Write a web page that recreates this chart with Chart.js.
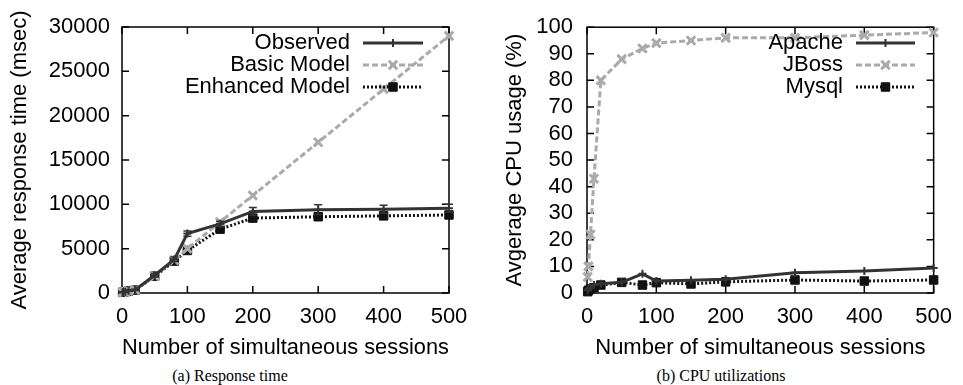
<!DOCTYPE html>
<html>
<head>
<meta charset="utf-8">
<script src="https://cdn.jsdelivr.net/npm/chart.js@4.4.1/dist/chart.umd.min.js"></script>
<style>
  body { margin: 0; background: #fff; width: 963px; height: 385px; position: relative; overflow: hidden; }
  canvas { position: absolute; top: 0; }
  .cap { position: absolute; top: 367px; font: 16px "Liberation Serif", "Times New Roman", serif; color: #000; transform: translateX(-50%); white-space: nowrap; }
</style>
</head>
<body>
<canvas id="resp" width="480" height="365" style="left:0"></canvas>
<canvas id="cpu" width="483" height="365" style="left:480px"></canvas>
<div class="cap" style="left:230px">(a) Response time</div>
<div class="cap" style="left:721px">(b) CPU utilizations</div>
<script>
// sessions (x)
var sessions = [1, 2, 5, 10, 20, 50, 80, 100, 150, 200, 300, 400, 500];

// response time (msec)
var observed = [80, 100, 150, 250, 350, 2000, 3800, 6700, 7800, 9200, 9400, 9450, 9550];
var observedErr = [20, 20, 30, 50, 80, 200, 250, 300, 300, 450, 550, 450, 450];
var basicModel = [80, 100, 150, 250, 350, 1900, 3700, 5000, 8000, 11000, 17000, 23000, 29000];
var enhancedModel = [80, 100, 150, 230, 330, 1900, 3600, 4800, 7200, 8450, 8600, 8700, 8800];

// cpu usage (%)
var apache = [1, 1.5, 2, 3, 3.5, 4, 7.2, 4.5, 4.8, 5.2, 7.6, 8.3, 9.4];
var jboss = [6, 10, 22, 43, 80, 88, 92, 94, 95, 96, 96, 97, 98];
var mysql = [0.5, 1, 1.5, 2, 3, 4, 3, 3.9, 3.4, 4.2, 4.9, 4.5, 4.9];

Chart.defaults.font.family = "'Liberation Sans', Arial, sans-serif";
Chart.defaults.font.size = 22;
Chart.defaults.color = '#000';

function pts(ys) {
    return sessions.map(function (x, i) { return {x: x, y: ys[i]}; });
}

// gnuplot like styles
function solidSet(label, ys) {
    return {label: label, data: pts(ys), borderColor: '#333', backgroundColor: '#333', borderWidth: 3,
        pointStyle: 'cross', pointRadius: 4, pointBorderWidth: 2, tension: 0, clip: false};
}
function dashSet(label, ys) {
    return {label: label, data: pts(ys), borderColor: '#aaa', backgroundColor: '#aaa', borderWidth: 3,
        borderDash: [6, 3], pointStyle: 'crossRot', pointRadius: 6, pointBorderWidth: 3, tension: 0, clip: false};
}
function dotSet(label, ys) {
    return {label: label, data: pts(ys), borderColor: '#111', backgroundColor: '#111', borderWidth: 3,
        borderDash: [2, 2], pointStyle: 'rect', pointRadius: 6, pointBorderWidth: 1, tension: 0, clip: false};
}

// box with inward ticks on all four sides, plus legend + error bars
var gnuplotLook = {
    id: 'gnuplotLook',
    beforeDatasetsDraw: function (chart) {
        var ctx = chart.ctx, a = chart.chartArea;
        var xs = chart.scales.x, ys = chart.scales.y;
        ctx.save();
        ctx.strokeStyle = '#000';
        ctx.lineWidth = 1.5;
        ctx.strokeRect(a.left, a.top, a.right - a.left, a.bottom - a.top);
        ctx.beginPath();
        xs.ticks.forEach(function (t) {
            var px = xs.getPixelForValue(t.value);
            ctx.moveTo(px, a.bottom); ctx.lineTo(px, a.bottom - 7);
            ctx.moveTo(px, a.top); ctx.lineTo(px, a.top + 7);
        });
        ys.ticks.forEach(function (t) {
            var py = ys.getPixelForValue(t.value);
            ctx.moveTo(a.left, py); ctx.lineTo(a.left + 7, py);
            ctx.moveTo(a.right, py); ctx.lineTo(a.right - 7, py);
        });
        ctx.stroke();
        ctx.restore();
    },
    afterDatasetsDraw: function (chart, args, opts) {
        if (!opts.errors) return;
        var ctx = chart.ctx, xs = chart.scales.x, ys = chart.scales.y;
        var vals = opts.errorValues;
        ctx.save();
        ctx.strokeStyle = '#333';
        ctx.lineWidth = 1.5;
        ctx.beginPath();
        sessions.forEach(function (s, i) {
            var px = xs.getPixelForValue(s);
            var y0 = ys.getPixelForValue(vals[i] - opts.errors[i]);
            var y1 = ys.getPixelForValue(vals[i] + opts.errors[i]);
            ctx.moveTo(px, y0); ctx.lineTo(px, y1);
            ctx.moveTo(px - 4, y0); ctx.lineTo(px + 4, y0);
            ctx.moveTo(px - 4, y1); ctx.lineTo(px + 4, y1);
        });
        ctx.stroke();
        ctx.restore();
    },
    afterDraw: function (chart, args, opts) {
        var ctx = chart.ctx;
        ctx.save();
        ctx.font = "22px 'Liberation Sans', Arial, sans-serif";
        ctx.textAlign = 'right';
        ctx.textBaseline = 'middle';
        chart.data.datasets.forEach(function (ds, i) {
            var y = opts.top + i * opts.rowGap;
            ctx.fillStyle = '#000';
            ctx.fillText(ds.label, opts.textRight, y);
            ctx.strokeStyle = ds.borderColor;
            ctx.lineWidth = ds.borderWidth;
            ctx.setLineDash(ds.borderDash || []);
            ctx.beginPath();
            ctx.moveTo(opts.lineLeft, y);
            ctx.lineTo(opts.lineLeft + opts.lineLen, y);
            ctx.stroke();
            ctx.setLineDash([]);
            ctx.fillStyle = ds.backgroundColor;
            ctx.lineWidth = ds.pointBorderWidth;
            Chart.helpers.drawPoint(ctx, {pointStyle: ds.pointStyle, radius: ds.pointRadius, rotation: 0,
                borderWidth: ds.pointBorderWidth}, opts.lineLeft + opts.lineLen / 2, y);
        });
        ctx.restore();
    }
};

function plain(v) { return String(v); }

function makeChart(id, datasets, yMax, yStep, yTitle, yWidth, yTitlePad, tickPad, rightPad, legend, errors) {
    return new Chart(id, {
        type: 'line',
        data: {datasets: datasets},
        plugins: [gnuplotLook],
        options: {
            responsive: false,
            animation: false,
            layout: {padding: {top: 27, right: rightPad, left: 0, bottom: 0}},
            plugins: {
                legend: {display: false},
                tooltip: {enabled: false},
                gnuplotLook: Object.assign({}, legend, errors)
            },
            scales: {
                x: {
                    type: 'linear', min: 0, max: 500,
                    ticks: {stepSize: 100, padding: 11, maxRotation: 0, autoSkip: false, callback: plain},
                    grid: {display: false, drawTicks: false},
                    border: {display: false},
                    title: {display: true, text: 'Number of simultaneous sessions', padding: {top: 0, bottom: 4}},
                    afterFit: function (s) { s.height = 72; }
                },
                y: {
                    min: 0, max: yMax,
                    ticks: {stepSize: yStep, padding: tickPad, autoSkip: false, callback: plain},
                    grid: {display: false, drawTicks: false},
                    border: {display: false},
                    title: {display: true, text: yTitle, padding: {top: yTitlePad, bottom: 0}},
                    afterFit: function (s) { s.width = yWidth; }
                }
            }
        }
    });
}

makeChart('resp', [
    solidSet('Observed', observed),
    dashSet('Basic Model', basicModel),
    dotSet('Enhanced Model', enhancedModel)
], 30000, 5000, 'Average response time (msec)', 122, 7, 12, 31,
    {top: 43, rowGap: 22, textRight: 350, lineLeft: 363, lineLen: 60},
    {errors: observedErr, errorValues: observed});

makeChart('cpu', [
    solidSet('Apache', apache),
    dashSet('JBoss', jboss),
    dotSet('Mysql', mysql)
], 100, 10, 'Avgerage CPU usage (%)', 107, 22, 14, 21,
    {top: 43, rowGap: 22, textRight: 363, lineLeft: 376, lineLen: 59},
    {});
</script>
</body>
</html>
